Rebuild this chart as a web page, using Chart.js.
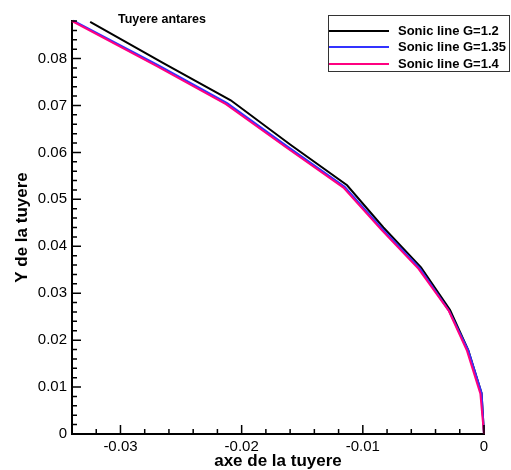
<!DOCTYPE html>
<html lang="fr">
<head>
  <meta charset="UTF-8">
  <title>Tuyere antares</title>
  <script src="https://cdn.jsdelivr.net/npm/chart.js"></script>
  <style>
    body { margin: 0; background: #fff; }
  </style>
</head>
<body>
  <canvas id="sonicChart" width="511" height="470"></canvas>

  <script>
    // sonic line, G=1.2
    const xG12 = [-0.0325, -0.0265, -0.0209, -0.0160, -0.0113, -0.0083, -0.0052, -0.0028, -0.0013, -0.0002, 0];
    const yG12 = [0.0878, 0.0791, 0.0711, 0.0617, 0.0530, 0.0440, 0.0355, 0.0264, 0.0179, 0.0087, 0];
    // sonic line, G=1.35
    const xG135 = [-0.0339, -0.0269, -0.0212, -0.0163, -0.0115, -0.0084, -0.0053, -0.0029, -0.0013, -0.0002, 0];
    const yG135 = [0.0881, 0.0786, 0.0705, 0.0614, 0.0527, 0.0437, 0.0353, 0.0263, 0.0178, 0.0087, 0];
    // sonic line, G=1.4
    const xG14 = [-0.0340, -0.0270, -0.0213, -0.0164, -0.0116, -0.0085, -0.0054, -0.0029, -0.0014, -0.0003, 0];
    const yG14 = [0.0880, 0.0784, 0.0703, 0.0612, 0.0525, 0.0436, 0.0352, 0.0262, 0.0177, 0.0086, 0];

    const seriesNames = ['Sonic line G=1.2', 'Sonic line G=1.35', 'Sonic line G=1.4'];
    const seriesColors = ['#000000', 'rgb(50,50,255)', 'rgb(255,0,128)'];

    const xMajor = [-0.03, -0.02, -0.01, 0];
    const xMinor = [-0.034, -0.032, -0.028, -0.026, -0.024, -0.022, -0.018, -0.016, -0.014, -0.012,
                    -0.008, -0.006, -0.004, -0.002];
    const yMajor = [0, 0.01, 0.02, 0.03, 0.04, 0.05, 0.06, 0.07, 0.08];
    const yMinor = [0.002, 0.004, 0.006, 0.008, 0.012, 0.014, 0.016, 0.018, 0.022, 0.024, 0.026, 0.028,
                    0.032, 0.034, 0.036, 0.038, 0.042, 0.044, 0.046, 0.048, 0.052, 0.054, 0.056, 0.058,
                    0.062, 0.064, 0.066, 0.068, 0.072, 0.074, 0.076, 0.078, 0.082, 0.084, 0.086, 0.088];

    const FONT = '"Liberation Sans", Arial, sans-serif';

    function pts(xs, ys) {
      return xs.map((x, i) => ({ x: x, y: ys[i] }));
    }

    function fmt(v) {
      if (Math.abs(v) < 1e-12) return '0';
      return v.toFixed(2);
    }

    // inward ticks, title and boxed legend
    const decorations = {
      id: 'decorations',
      afterDraw(chart) {
        const ctx = chart.ctx;
        const xs = chart.scales.x;
        const ys = chart.scales.y;
        const area = chart.chartArea;
        ctx.save();
        ctx.strokeStyle = '#000';
        ctx.lineWidth = 1.5;
        ctx.beginPath();
        xMajor.forEach(v => { const p = xs.getPixelForValue(v); ctx.moveTo(p, area.bottom); ctx.lineTo(p, area.bottom - 9); });
        xMinor.forEach(v => { const p = xs.getPixelForValue(v); ctx.moveTo(p, area.bottom); ctx.lineTo(p, area.bottom - 5); });
        yMajor.forEach(v => { const p = ys.getPixelForValue(v); ctx.moveTo(area.left, p); ctx.lineTo(area.left + 9, p); });
        yMinor.forEach(v => { const p = ys.getPixelForValue(v); ctx.moveTo(area.left, p); ctx.lineTo(area.left + 5, p); });
        ctx.stroke();

        // title
        ctx.fillStyle = '#000';
        ctx.font = 'bold 12.5px ' + FONT;
        ctx.textAlign = 'left';
        ctx.textBaseline = 'middle';
        ctx.fillText('Tuyere antares', 118, 20);

        // legend
        ctx.fillStyle = '#fff';
        ctx.fillRect(328.5, 15.5, 181, 56);
        ctx.strokeStyle = '#333';
        ctx.lineWidth = 1;
        ctx.strokeRect(328.5, 15.5, 181, 56);
        const rows = [31, 47, 64];
        chart.data.datasets.forEach((ds, i) => {
          ctx.strokeStyle = ds.borderColor;
          ctx.lineWidth = 2;
          ctx.beginPath();
          ctx.moveTo(329, rows[i]);
          ctx.lineTo(389, rows[i]);
          ctx.stroke();
          ctx.fillStyle = '#000';
          ctx.font = 'bold 13px ' + FONT;
          ctx.fillText(ds.label, 398, rows[i]);
        });
        ctx.restore();
      }
    };

    const ctx = document.getElementById('sonicChart').getContext('2d');
    new Chart(ctx, {
      type: 'line',
      data: {
        datasets: [
          { label: seriesNames[0], data: pts(xG12, yG12), borderColor: seriesColors[0], order: 3 },
          { label: seriesNames[1], data: pts(xG135, yG135), borderColor: seriesColors[1], order: 2 },
          { label: seriesNames[2], data: pts(xG14, yG14), borderColor: seriesColors[2], order: 1 }
        ]
      },
      options: {
        responsive: false,
        animation: false,
        layout: { padding: { top: 21, right: 27, left: 0, bottom: 0 } },
        elements: {
          line: { borderWidth: 2, tension: 0, fill: false },
          point: { radius: 0 }
        },
        datasets: { line: { clip: false } },
        plugins: {
          legend: { display: false },
          tooltip: { enabled: false }
        },
        scales: {
          x: {
            type: 'linear',
            min: -0.034,
            max: 0,
            afterBuildTicks: s => { s.ticks = xMajor.map(v => ({ value: v })); },
            afterFit: s => { s.height = 36; },
            grid: { drawOnChartArea: false, drawTicks: false },
            border: { color: '#000', width: 2 },
            ticks: {
              padding: 4,
              color: '#000',
              font: { family: FONT, size: 15 },
              callback: v => fmt(v)
            },
            title: {
              display: true,
              text: 'axe de la tuyere',
              color: '#000',
              font: { family: FONT, size: 17, weight: 'bold', lineHeight: 1 },
              padding: { top: 0, bottom: 0 }
            }
          },
          y: {
            type: 'linear',
            min: 0,
            max: 0.088,
            afterBuildTicks: s => { s.ticks = yMajor.map(v => ({ value: v })); },
            afterFit: s => { s.width = 72; },
            grid: { drawOnChartArea: false, drawTicks: false },
            border: { color: '#000', width: 2 },
            ticks: {
              padding: 5,
              color: '#000',
              font: { family: FONT, size: 15 },
              callback: v => fmt(v)
            },
            title: {
              display: true,
              text: 'Y de la tuyere',
              color: '#000',
              font: { family: FONT, size: 17, weight: 'bold', lineHeight: 1 },
              padding: { top: 14, bottom: 0 }
            }
          }
        }
      },
      plugins: [decorations]
    });
  </script>
</body>
</html>
